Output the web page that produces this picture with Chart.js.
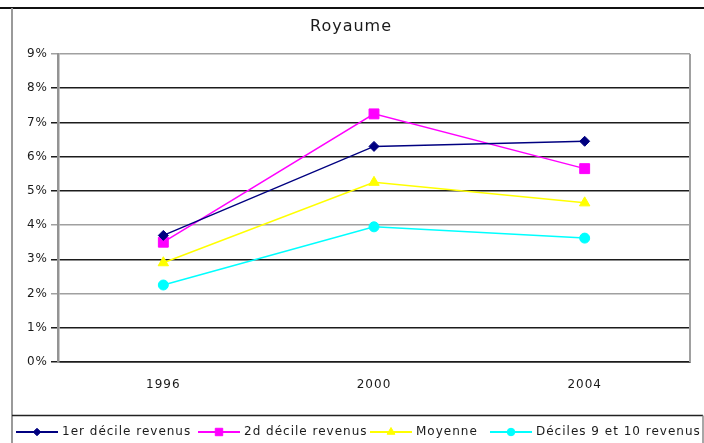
<!DOCTYPE html>
<html lang="fr">
<head>
<meta charset="utf-8">
<title>Royaume</title>
<script src="https://cdn.jsdelivr.net/npm/chart.js@4/dist/chart.umd.min.js"></script>
<style>
  html, body { margin: 0; padding: 0; background: #ffffff; }
  canvas { display: block; }
</style>
</head>
<body>
<canvas id="chart" width="704" height="443"></canvas>
<script>
// Years on the category axis
const years = ['1996', '2000', '2004'];

// Series labels
const seriesNames = ['1er décile revenus', '2d décile revenus', 'Moyenne', 'Déciles 9 et 10 revenus'];

// Values in percent, one array per series
const firstDecile = [3.7, 6.3, 6.45];
const secondDecile = [3.5, 7.25, 5.65];
const average = [2.9, 5.25, 4.65];
const topDeciles = [2.25, 3.95, 3.62];

// Value axis ticks (percent)
const yTicks = [0, 1, 2, 3, 4, 5, 6, 7, 8, 9];

const FONT = "'DejaVu Sans', 'Liberation Sans', Arial, sans-serif";
const TEXT = '#1a1a1a';

// Shade of each horizontal rule, from 0% upward
const ruleShade = ['#1c1c1c', '#1c1c1c', '#a0a0a0', '#1c1c1c', '#a0a0a0',
                   '#1c1c1c', '#1c1c1c', '#1c1c1c', '#1c1c1c', '#a0a0a0'];

function series(label, data, color, style, radius) {
  return {
    label, data,
    borderColor: color,
    backgroundColor: color,
    borderWidth: 1.5,
    pointStyle: style,
    pointRadius: radius,
    pointHoverRadius: radius,
    pointBackgroundColor: color,
    pointBorderColor: color,
    pointBorderWidth: 1,
    tension: 0
  };
}

// Wide text spacing for every label on the canvas
const spacing = {
  id: 'spacing',
  beforeUpdate(chart) { chart.ctx.letterSpacing = '1px'; },
  beforeDraw(chart) { chart.ctx.letterSpacing = '1px'; }
};

// Outer frame, plot border on the right and the legend box
const frame = {
  id: 'frame',
  beforeDraw(chart) {
    const ctx = chart.ctx;
    ctx.save();
    ctx.fillStyle = '#ffffff';
    ctx.fillRect(0, 0, chart.width, chart.height);
    ctx.lineCap = 'butt';
    // top edge
    ctx.strokeStyle = '#111111';
    ctx.lineWidth = 2;
    ctx.beginPath(); ctx.moveTo(0, 8); ctx.lineTo(chart.width, 8); ctx.stroke();
    // left edge
    ctx.strokeStyle = '#9a9a9a';
    ctx.lineWidth = 2;
    ctx.beginPath(); ctx.moveTo(12, 8); ctx.lineTo(12, chart.height); ctx.stroke();
    // legend box
    ctx.strokeStyle = '#222222';
    ctx.lineWidth = 1.5;
    ctx.beginPath(); ctx.moveTo(12, 415.5); ctx.lineTo(703, 415.5); ctx.stroke();
    ctx.strokeStyle = '#8a8a8a';
    ctx.beginPath(); ctx.moveTo(703, 415.5); ctx.lineTo(703, chart.height); ctx.stroke();
    ctx.restore();
  },
  beforeDatasetsDraw(chart) {
    const a = chart.chartArea;
    const ctx = chart.ctx;
    ctx.save();
    ctx.strokeStyle = '#a0a0a0';
    ctx.lineWidth = 2;
    ctx.beginPath(); ctx.moveTo(a.right, a.top); ctx.lineTo(a.right, a.bottom); ctx.stroke();
    ctx.restore();
  }
};

// Legend row: short line with a smaller copy of the series marker, then the label
const lineLegend = {
  id: 'lineLegend',
  afterDraw(chart, args, opts) {
    const ctx = chart.ctx;
    const y = opts.y;
    ctx.save();
    ctx.letterSpacing = '1px';
    ctx.font = '12px ' + FONT;
    ctx.textBaseline = 'middle';
    ctx.textAlign = 'left';
    chart.data.datasets.forEach((ds, i) => {
      const x0 = opts.starts[i];
      const x1 = x0 + opts.lineLength;
      ctx.strokeStyle = ds.borderColor;
      ctx.lineWidth = 2;
      ctx.beginPath(); ctx.moveTo(x0, y); ctx.lineTo(x1, y); ctx.stroke();
      ctx.fillStyle = ds.backgroundColor;
      ctx.lineWidth = 1;
      Chart.helpers.drawPoint(ctx, {
        pointStyle: ds.pointStyle,
        radius: ds.pointRadius * opts.markerScale,
        borderWidth: 1,
        rotation: 0
      }, (x0 + x1) / 2, y);
      ctx.fillStyle = TEXT;
      ctx.fillText(ds.label, x1 + opts.gap, y);
    });
    ctx.restore();
  }
};

new Chart(document.getElementById('chart'), {
  type: 'line',
  data: {
    labels: years,
    datasets: [
      series(seriesNames[0], firstDecile, '#000080', 'rectRot', 5),
      series(seriesNames[1], secondDecile, '#ff00ff', 'rect', 7),
      series(seriesNames[2], average, '#ffff00', 'triangle', 6),
      series(seriesNames[3], topDeciles, '#00ffff', 'circle', 5)
    ]
  },
  options: {
    responsive: false,
    animation: false,
    events: [],
    layout: { padding: { left: 12, right: 14, top: 0, bottom: 0 } },
    plugins: {
      legend: { display: false },
      tooltip: { enabled: false },
      title: {
        display: true,
        text: 'Royaume',
        color: TEXT,
        font: { family: FONT, size: 16, weight: 'normal', lineHeight: 1.2 },
        padding: { top: 17, bottom: 17.8 }
      },
      lineLegend: { y: 432, starts: [16, 198, 370, 490], lineLength: 42, gap: 4, markerScale: 0.75 }
    },
    scales: {
      x: {
        type: 'category',
        offset: true,
        grid: { display: false, drawTicks: false },
        border: { display: true, color: '#1c1c1c', width: 1.5 },
        ticks: { color: TEXT, font: { family: FONT, size: 12 }, padding: 16, maxRotation: 0 },
        afterFit(scale) { scale.height = 81; }
      },
      y: {
        min: 0,
        max: 9,
        afterBuildTicks(scale) { scale.ticks = yTicks.map(v => ({ value: v })); },
        grid: {
          color: (c) => ruleShade[c.index] || '#1c1c1c',
          lineWidth: 1.5,
          tickLength: 7,
          drawTicks: true
        },
        border: { display: true, color: '#939393', width: 2.5 },
        ticks: {
          color: TEXT,
          font: { family: FONT, size: 12 },
          padding: 3,
          callback: (v) => v + '%'
        },
        afterFit(scale) { scale.width = 46; }
      }
    }
  },
  plugins: [spacing, frame, lineLegend]
});
</script>
</body>
</html>
